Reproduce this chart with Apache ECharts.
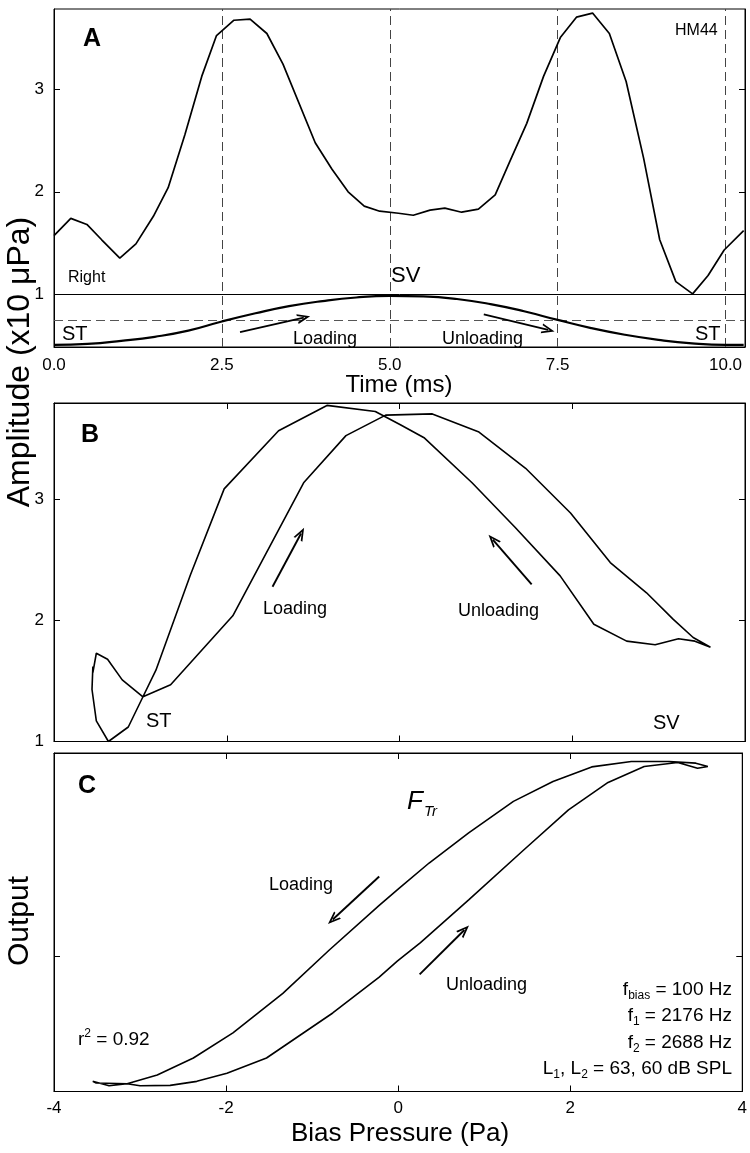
<!DOCTYPE html>
<html><head><meta charset="utf-8">
<script src="https://cdn.jsdelivr.net/npm/echarts@6/dist/echarts.min.js"></script>
<style>html,body{margin:0;padding:0;background:#fff}#c{width:750px;height:1153px}</style>
</head><body><div id="c"></div>
<script>
// ---- Panel A: amplitude vs time ----
const timeMs = [0,0.25,0.49,0.71,0.98,1.22,1.48,1.70,1.95,2.20,2.42,2.68,2.92,3.17,3.41,3.89,4.14,4.38,4.62,4.85,5.13,5.35,5.60,5.82,6.07,6.32,6.57,6.79,7.04,7.29,7.54,7.78,8.02,8.27,8.52,8.78,9.02,9.26,9.51,9.74,9.98,10.27];
const amplitudeA = [1.57,1.74,1.68,1.53,1.35,1.49,1.76,2.04,2.56,3.13,3.53,3.68,3.69,3.55,3.25,2.48,2.22,2.00,1.86,1.81,1.79,1.77,1.82,1.84,1.80,1.83,1.97,2.30,2.67,3.13,3.51,3.71,3.75,3.55,3.08,2.33,1.53,1.12,1.00,1.18,1.43,1.62];
// bias pressure waveform (drawn in the lower strip of panel A)
const biasTimeMs = [0,0.5,1,1.5,2,2.5,3,3.5,4,4.5,5,5.5,6,6.5,7,7.5,8,8.5,9,9.5,10,10.27];
const biasLevel = [0.50,0.51,0.54,0.58,0.64,0.73,0.81,0.88,0.93,0.965,0.98,0.975,0.95,0.90,0.83,0.745,0.665,0.60,0.55,0.515,0.50,0.50];
const refTimes = [2.5,5,7.5,10];
const svLevel = 1;
const midLevel = 0.745;
const timeTicks = [0,2.5,5,7.5,10];
const ampTicks = [1,2,3];
// ---- Panel B: amplitude vs bias pressure ----
const pressureB = [-3.55,-3.51,-3.38,-3.21,-2.97,-2.65,-1.93,-1.11,-0.62,-0.16,0.38,0.92,1.46,1.98,2.44,2.86,3.17,3.40,3.60,3.42,3.23,2.96,2.63,2.25,1.86,1.34,0.84,0.29,0.01,-0.28,-0.84,-1.40,-2.03,-2.42,-2.82,-2.97,-3.14,-3.37,-3.51,-3.56,-3.55];
const amplitudeB = [1.57,1.73,1.68,1.51,1.37,1.47,2.04,3.14,3.53,3.70,3.71,3.56,3.26,2.89,2.48,2.23,2.01,1.86,1.78,1.83,1.85,1.80,1.83,1.97,2.37,2.77,3.14,3.51,3.62,3.73,3.78,3.57,3.09,2.38,1.59,1.37,1.12,1.00,1.17,1.43,1.62];
// ---- Panel C: transfer function output vs bias pressure ----
const pressureC = [-3.55,-3.36,-3.15,-2.80,-2.38,-1.92,-1.34,-0.80,-0.22,0.01,0.36,0.82,1.34,1.80,2.25,2.71,3.15,3.46,3.60,3.48,3.25,2.86,2.44,1.98,1.44,0.82,0.26,-0.01,-0.22,-0.76,-1.53,-1.99,-2.34,-2.65,-3.00,-3.15,-3.51,-3.55];
const outputC = [0.030,0.017,0.023,0.049,0.099,0.173,0.290,0.418,0.550,0.600,0.675,0.764,0.857,0.916,0.959,0.975,0.975,0.970,0.960,0.955,0.972,0.960,0.913,0.832,0.709,0.566,0.440,0.385,0.338,0.232,0.099,0.054,0.030,0.018,0.017,0.023,0.025,0.030];
const pressureTicks = [-4,-2,0,2,4];
const pressureInnerTicks = [-2,0,2];
const outputTicks = [0.4];

const FONT = "'Liberation Sans', Arial, Helvetica, sans-serif";
const chart = echarts.init(document.getElementById('c'), null, {renderer:'canvas'});

function axis(o){
  return Object.assign({
    type:'value',
    axisLine:{show:true,onZero:false,lineStyle:{color:'#000',width:1}},
    splitLine:{show:false},
    axisTick:{show:true,inside:true,length:6,lineStyle:{color:'#000',width:1}},
    axisLabel:{show:false}
  }, o);
}
function ticks(vals){ return {show:true,inside:true,length:6,customValues:vals,lineStyle:{color:'#000',width:1}}; }
function labels(vals, extra){ return Object.assign({show:true,customValues:vals,color:'#000',fontFamily:FONT,fontSize:17}, extra||{}); }

const arrowHead = 'path://M0,0L7,14L4.4,14L0,5.2L-4.4,14L-7,14Z';
function arrows(list){
  return {silent:true,symbol:['none',arrowHead],symbolSize:[10,13],label:{show:false},
    emphasis:{disabled:true},animation:false,
    lineStyle:{color:'#000',width:1.9,type:'solid'},
    data:list.map(c=>[{coord:c[0]},{coord:c[1]}])};
}
function zip(a,b){ return a.map((v,i)=>[v,b[i]]); }

function txt(x,y,text,size,extra){
  return {type:'text',x:x,y:y,z:100,style:Object.assign({text:text,fill:'#000',
    font:(extra&&extra.fontStyle?extra.fontStyle+' ':'')+(extra&&extra.weight?extra.weight+' ':'')+size+'px '+FONT,
    align:(extra&&extra.align)||'left',verticalAlign:'middle'},extra&&extra.style||{})};
}
function richTxt(x,y,text,rich,align){
  return {type:'text',x:x,y:y,z:100,style:{text:text,rich:rich,align:align||'left',verticalAlign:'middle',fill:'#000'}};
}
const base19 = {fontFamily:FONT,fontSize:19,lineHeight:24,verticalAlign:'middle',fill:'#000'};
const sub12 = {fontFamily:FONT,fontSize:12,lineHeight:12,verticalAlign:'bottom',fill:'#000'};
const sup12 = {fontFamily:FONT,fontSize:12,lineHeight:12,verticalAlign:'top',fill:'#000'};

const option = {
  animation:false,
  backgroundColor:'#fff',
  grid:[
    {left:54,top:9,width:691,height:338,show:true,borderColor:'#000',borderWidth:1},
    {left:54,top:403,width:691,height:338.5,show:true,borderColor:'#000',borderWidth:1},
    {left:54,top:753,width:691,height:338.5,show:true,borderColor:'#000',borderWidth:1}
  ],
  xAxis:[
    axis({gridIndex:0,min:0,max:10.29,axisTick:ticks(timeTicks),
      axisLabel:labels(timeTicks,{margin:10,formatter:v=>Number(v).toFixed(1)})}),
    axis({gridIndex:1,min:-4,max:4,axisTick:ticks(pressureInnerTicks)}),
    axis({gridIndex:2,min:-4,max:4,axisTick:ticks(pressureInnerTicks),
      axisLabel:labels(pressureTicks,{margin:8})}),
    axis({gridIndex:1,min:-4,max:4,position:'top',axisTick:ticks(pressureInnerTicks)}),
    axis({gridIndex:2,min:-4,max:4,position:'top',axisTick:ticks(pressureInnerTicks)})
  ],
  yAxis:[
    axis({gridIndex:0,min:0.48,max:3.79,axisTick:ticks(ampTicks),axisLabel:labels(ampTicks,{margin:10})}),
    axis({gridIndex:1,min:1,max:3.8,axisTick:ticks([2,3]),axisLabel:labels(ampTicks,{margin:10})}),
    axis({gridIndex:2,min:0,max:1,axisTick:ticks(outputTicks)}),
    axis({gridIndex:0,min:0.48,max:3.79,position:'right',axisTick:ticks(ampTicks)}),
    axis({gridIndex:1,min:1,max:3.8,position:'right',axisTick:ticks([2,3])}),
    axis({gridIndex:2,min:0,max:1,position:'right',axisTick:ticks(outputTicks)})
  ],
  series:[
    {type:'line',xAxisIndex:0,yAxisIndex:0,data:zip(timeMs,amplitudeA),symbol:'none',
      lineStyle:{color:'#000',width:1.7},z:5,
      markLine:{silent:true,symbol:'none',label:{show:false},animation:false,emphasis:{disabled:true},
        lineStyle:{color:'#444',width:1,type:[9,5]},
        data:refTimes.map(t=>({xAxis:t})).concat([
          {yAxis:svLevel,lineStyle:{color:'#000',width:1,type:'solid'}},
          {yAxis:midLevel,lineStyle:{color:'#555',width:1,type:[9,5]}}
        ])}},
    {type:'line',xAxisIndex:0,yAxisIndex:0,data:zip(biasTimeMs,biasLevel),symbol:'none',smooth:true,
      lineStyle:{color:'#000',width:2.2},z:5,
      markLine:arrows([[[2.77,0.625],[3.72,0.768]],[[6.40,0.80],[7.36,0.647]]])},
    {type:'line',xAxisIndex:1,yAxisIndex:1,data:zip(pressureB,amplitudeB),symbol:'none',
      lineStyle:{color:'#000',width:1.6},z:5,
      markLine:arrows([[[-1.47,2.28],[-1.14,2.72]],[[1.53,2.30],[1.08,2.67]]])},
    {type:'line',xAxisIndex:2,yAxisIndex:2,data:zip(pressureC,outputC),symbol:'none',
      lineStyle:{color:'#000',width:1.6},z:5,
      markLine:arrows([[[-0.22,0.635],[-0.76,0.508]],[[0.25,0.346],[0.77,0.477]]])}
  ],
  graphic:[
    // axis names
    {type:'text',x:20,y:362,rotation:Math.PI/2,z:100,style:{text:'Amplitude (x10 μPa)',fill:'#000',font:'32px '+FONT,align:'center',verticalAlign:'middle'}},
    {type:'text',x:20,y:921,rotation:Math.PI/2,z:100,style:{text:'Output',fill:'#000',font:'30px '+FONT,align:'center',verticalAlign:'middle'}},
    txt(399,385,'Time (ms)',24,{align:'center'}),
    txt(400,1134,'Bias Pressure (Pa)',26,{align:'center'}),
    // panel A
    txt(92,39,'A',25,{weight:'bold',align:'center'}),
    txt(675,31,'HM44',16),
    txt(68,278,'Right',16),
    txt(391,276,'SV',22),
    txt(62,334,'ST',20),
    txt(695,334,'ST',20),
    txt(293,339,'Loading',18),
    txt(442,339,'Unloading',18),
    // panel B
    txt(90,435,'B',25,{weight:'bold',align:'center'}),
    txt(263,609,'Loading',18),
    txt(458,611,'Unloading',18),
    txt(146,721,'ST',20),
    txt(653,723,'SV',20),
    // panel C
    txt(87,786,'C',25,{weight:'bold',align:'center'}),
    txt(269,885,'Loading',18),
    txt(446,985,'Unloading',18),
    txt(407,802,'F',26,{fontStyle:'italic'}),
    txt(424,812,'Tr',15,{fontStyle:'italic'}),
    richTxt(78,1040,'{a|r}{p|2}{a| = 0.92}',{a:base19,p:sup12}),
    richTxt(732,990,'{a|f}{s|bias}{a| = 100 Hz}',{a:base19,s:sub12},'right'),
    richTxt(732,1016,'{a|f}{s|1}{a| = 2176 Hz}',{a:base19,s:sub12},'right'),
    richTxt(732,1043,'{a|f}{s|2}{a| = 2688 Hz}',{a:base19,s:sub12},'right'),
    richTxt(732,1069,'{a|L}{s|1}{a|, L}{s|2}{a| = 63, 60 dB SPL}',{a:base19,s:sub12},'right')
  ]
};
chart.setOption(option);
</script></body></html>
